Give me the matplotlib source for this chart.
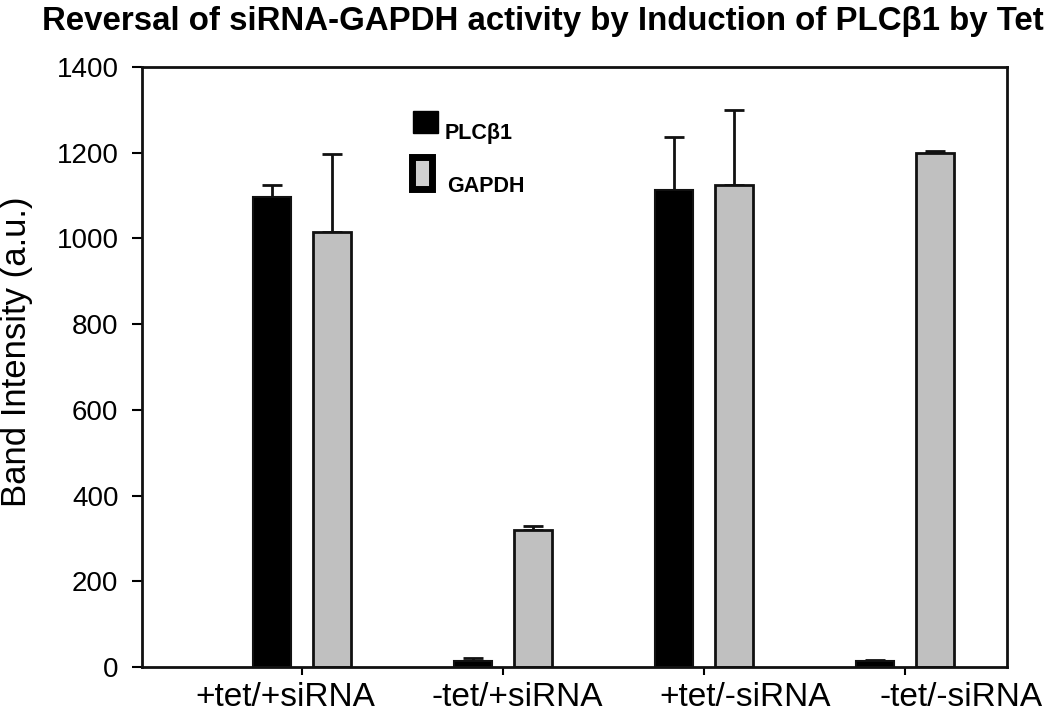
import matplotlib
matplotlib.use("Agg")
import matplotlib.pyplot as plt
import matplotlib.transforms as mtransforms
import numpy as np
from matplotlib.patches import Rectangle

plt.rcParams['font.family'] = ['Liberation Sans', 'DejaVu Sans']

groups = ["+tet/+siRNA", "-tet/+siRNA", "+tet/-siRNA", "-tet/-siRNA"]
plc = [1097, 15, 1113, 13]
plc_err = [28, 6, 124, 3]
gapdh = [1016, 320, 1125, 1199]
gapdh_err = [180, 8, 175, 6]

fig = plt.figure(figsize=(10.5, 7.13), dpi=100)
ax = fig.add_axes([142 / 1050, 1 - 667 / 713, 865 / 1050, 600 / 713])

x = np.arange(len(groups))
w = 0.19
off = 0.15
ax.bar(x - off, plc, w, color='black', edgecolor='#111111', linewidth=1.5, zorder=2)
ax.bar(x + off, gapdh, w, color='#c0c0c0', edgecolor='#111111', linewidth=2, zorder=2)
ax.errorbar(x - off, plc, yerr=[np.zeros(4), plc_err], fmt='none', ecolor='#111111',
            elinewidth=2, capsize=7, capthick=2, zorder=1)
ax.errorbar(x + off, gapdh, yerr=[np.zeros(4), gapdh_err], fmt='none', ecolor='#111111',
            elinewidth=2, capsize=7, capthick=2, zorder=1)

ax.set_xlim(-0.796, 3.507)
ax.set_ylim(0, 1400)
ax.set_yticks(range(0, 1401, 200))
ax.set_xticks(x)
ax.set_xticklabels(groups, fontsize=24)
ax.tick_params(axis='y', labelsize=20, direction='out', length=7, width=1.5, pad=10)
ax.tick_params(axis='x', direction='out', length=6, width=1.5, pad=5)
for s in ax.spines.values():
    s.set_linewidth(2)
    s.set_color('#111111')

# the labels in the original are not centred on their ticks
shifts = [-17, 14, 41, 56]
for lab, dx in zip(ax.get_xticklabels(), shifts):
    lab.set_transform(lab.get_transform() +
                      mtransforms.ScaledTranslation(dx / 100, 0, fig.dpi_scale_trans))

ax.set_ylabel("Band Intensity (a.u.)", fontsize=25)
ax.yaxis.set_label_coords(-0.126, 0.525)
fig.suptitle("Reversal of siRNA-GAPDH activity by Induction of PLCβ1 by Tet",
             fontsize=23.8, fontweight='bold', x=0.517, y=0.991, va='top')

# legend drawn by hand, like the original
ax.add_patch(Rectangle((0.3133, 0.89), 0.0289, 0.0367, transform=ax.transAxes,
                       facecolor='black', edgecolor='black', linewidth=1, clip_on=False))
ax.add_patch(Rectangle((0.3127, 0.7975), 0.0231, 0.0533, transform=ax.transAxes,
                       facecolor='#d0d0d0', edgecolor='black', linewidth=5, clip_on=False))
ax.text(0.3503, 0.88, "PLCβ1", transform=ax.transAxes, fontsize=15.5,
        fontweight='bold', va='baseline', ha='left')
ax.text(0.3526, 0.7917, "GAPDH", transform=ax.transAxes, fontsize=15.5,
        fontweight='bold', va='baseline', ha='left')

fig.savefig("out.png", dpi=100)
